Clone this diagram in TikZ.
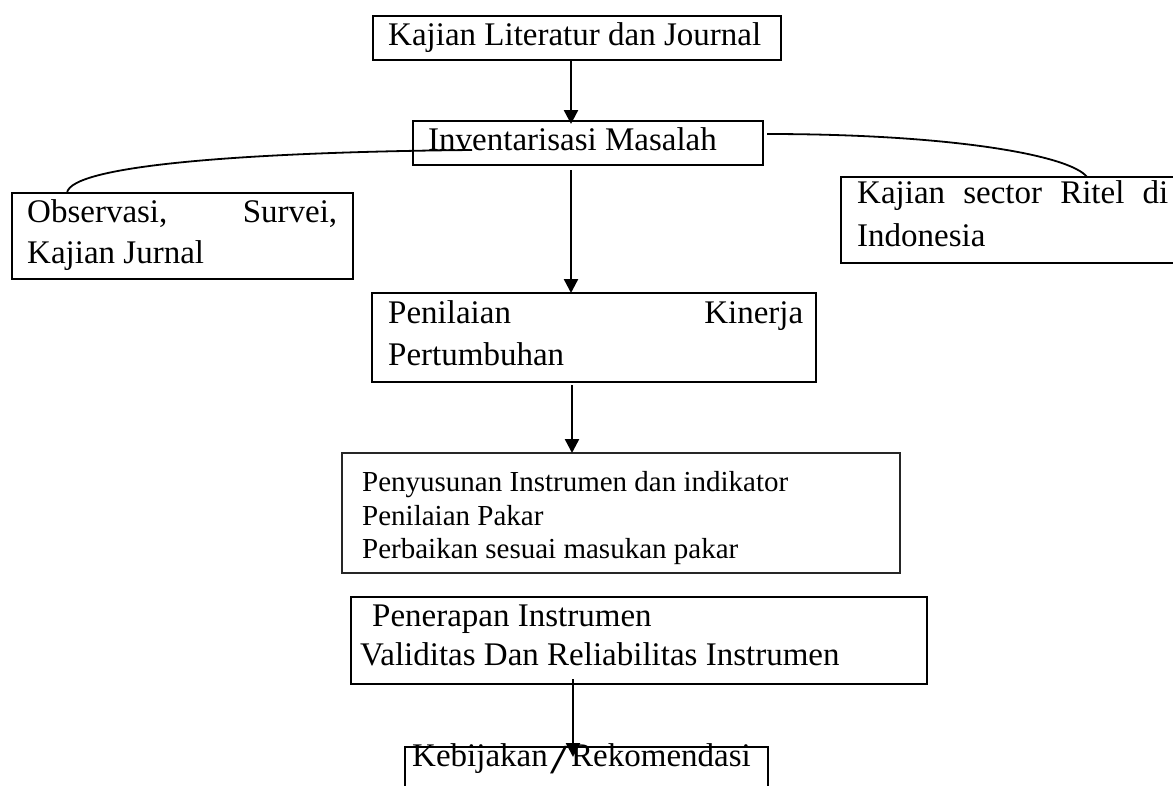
\documentclass[tikz,border=0pt]{standalone}
\usepackage{fontspec}
\setmainfont{Liberation Serif}
\usepackage{graphicx}
\usetikzlibrary{arrows.meta,calc}
\begin{document}
\begin{tikzpicture}[x=1pt,y=-1pt,
  box/.style={draw, line width=2.4pt, inner sep=0pt, outer sep=0pt, rectangle},
  thinbox/.style={draw=black!85, line width=1.5pt, inner sep=0pt, outer sep=0pt, rectangle},
  txt/.style={inner sep=0pt, anchor=base west, font=\fontsize{33}{40}\selectfont},
  txtsm/.style={inner sep=0pt, anchor=base west, font=\fontsize{29}{34}\selectfont},
  arr/.style={line width=2.4pt, -{Triangle[width=14pt,length=14pt]}},
  link/.style={line width=1.8pt}]
\useasboundingbox (0,0) rectangle (1173,785);
\clip (0,0) rectangle (1173,785);
\fill[white] (0,0) rectangle (1173,785);

% boxes
\node[box, minimum width=408pt, minimum height=44pt] (b1) at (577,38) {};
\node[box, minimum width=350pt, minimum height=44pt] (b2) at (588,143) {};
\node[box, minimum width=341pt, minimum height=86pt] (b3) at (182.5,236) {};
\node[box, minimum width=359pt, minimum height=86pt] (b4) at (1020.5,220) {};
\node[box, minimum width=444pt, minimum height=89pt] (b5) at (594,337.5) {};
\node[thinbox, minimum width=558pt, minimum height=120pt] (b6) at (621,513) {};
\node[box, minimum width=576pt, minimum height=87pt] (b7) at (639,640.5) {};
\node[box, minimum width=363pt, minimum height=73pt] (b8) at (586.5,783.5) {};

% texts
\node[txt] (t1) at (388,45) {Kajian Literatur dan Journal};
\node[txt] (t2) at (428,150) {Inventarisasi Masalah};
\node[txt] (t3a) at (27,222) {\makebox[310pt][s]{Observasi, Survei,}};
\node[txt] (t3b) at (27,263) {Kajian Jurnal};
\node[txt] (t4a) at (857,203) {\makebox[311pt][s]{Kajian sector Ritel di}};
\node[txt] (t4b) at (857,246) {Indonesia};
\node[txt] (t5a) at (388,323) {\makebox[415pt][s]{Penilaian Kinerja}};
\node[txt] (t5b) at (388,365) {Pertumbuhan};
\node[txtsm] (t6a) at (362,491) {Penyusunan Instrumen dan indikator};
\node[txtsm] (t6b) at (362,525) {Penilaian Pakar};
\node[txtsm] (t6c) at (362,558) {Perbaikan sesuai masukan pakar};
\node[txt] (t7a) at (372,626) {Penerapan Instrumen};
\node[txt] (t7b) at (360,665) {Validitas Dan Reliabilitas Instrumen};
\node[txt] (t8) at (412,766) {Kebijakan\hspace{3pt}\raisebox{-7pt}{\scalebox{1.9}[1.25]{/}}\hspace{3pt}Rekomendasi};

% arrow columns
\coordinate (ax1) at (571,0);
\coordinate (ax2) at (572,0);
\coordinate (ax3) at (573,0);

% arrows
\draw[arr, shorten >=-3pt] (b1.south -| ax1) -- (b2.north -| ax1);
\draw[arr, shorten <=5pt] (b2.south -| ax1) -- (b5.north -| ax1);
\draw[arr, shorten <=3pt] (b5.south -| ax2) -- (b6.north -| ax2);
\draw[arr, shorten <=-5pt, shorten >=-10pt] (b7.south -| ax3) -- (b8.north -| ax3);

% side links
\draw[link] ($(b2.north west)+(59,29)$) .. controls (250,152) and (70,165) .. ($(b3.north west)+(55,0)$);
\draw[link] ($(b2.north east)+(4,13)$) .. controls (950,134) and (1070,155) .. ($(b4.north west)+(246,0)$);
\end{tikzpicture}
\end{document}
